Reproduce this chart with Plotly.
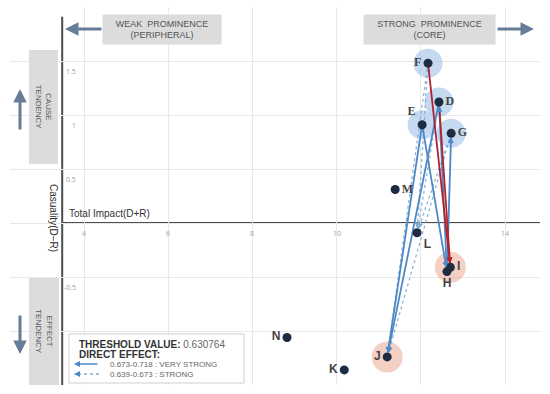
import math
import plotly.graph_objects as go

# ---------------- data ----------------
nodes = ["D", "E", "F", "G", "H", "I", "J", "K", "L", "M", "N"]
prominence = [12.43, 12.03, 12.17, 12.72, 12.62, 12.70, 11.20, 10.18, 11.91, 11.39, 8.82]   # D+R
relation = [1.12, 0.91, 1.48, 0.83, -0.45, -0.41, -1.24, -1.36, -0.09, 0.31, -1.06]       # D-R
label_pos = ["middle right", "top left", "middle left", "middle right", "bottom center",
             "middle right", "middle left", "middle left", "bottom right", "middle right",
             "middle left"]
label_serif = ["D", "E", "F", "G", "M"]

blue_focus = ["F", "D", "E", "G"]
red_focus = ["I", "J"]

edges_red = [("F", "I"), ("D", "I")]
edges_very_strong = [("E", "H"), ("H", "G"), ("H", "D"), ("D", "J"), ("E", "J")]
edges_strong = [("F", "J"), ("G", "J"), ("F", "L"), ("D", "L"), ("G", "L")]

x_tick_vals = [4, 6, 8, 10, 14]
x_tick_text = ["4", "6", "8", "10", "14"]
y_tick_vals = [1.5, 1, 0.5, -0.5]
y_tick_text = ["1.5", "1", "0.5", "-0.5"]

threshold = "0.630764"
legend_rows = ["0.673-0.718 : VERY STRONG", "0.639-0.673 : STRONG"]

# ---------------- layout constants ----------------
W, H = 550, 394
ML, MR, MT, MB = 10, 10, 7, 9
XR = [2.24, 14.83]
YR = [-1.5, 2.0]
PW, PH = W - ML - MR, H - MT - MB
kx = PW / (XR[1] - XR[0])
ky = PH / (YR[1] - YR[0])
AXIS_X = 3.48
AXIS_TOP = 1.91


def px(x):
    return (x - ML) / PW


def py(y):
    return (H - MB - y) / PH


pos = {n: (x, y) for n, x, y in zip(nodes, prominence, relation)}

BLUE = "#4d89c6"
BLUE_DOT = "#86aed6"
RED = "#b2222e"
SLATE = "#667d9a"

fig = go.Figure()

# highlight circles
fig.add_trace(go.Scatter(
    x=[pos[n][0] for n in blue_focus], y=[pos[n][1] for n in blue_focus],
    mode="markers", marker=dict(size=29, color="rgba(150,188,228,0.55)"),
    hoverinfo="skip", showlegend=False))
fig.add_trace(go.Scatter(
    x=[pos[n][0] for n in red_focus], y=[pos[n][1] for n in red_focus],
    mode="markers", marker=dict(size=31, color="rgba(234,160,138,0.5)"),
    hoverinfo="skip", showlegend=False))

annotations = []


def add_edge(a, b, color, width, dash):
    x0, y0 = pos[a]
    x1, y1 = pos[b]
    fig.add_trace(go.Scatter(x=[x0, x1], y=[y0, y1], mode="lines",
                             line=dict(color=color, width=width, dash=dash),
                             hoverinfo="skip", showlegend=False))
    dx = (x1 - x0) * kx
    dy = -(y1 - y0) * ky
    L = math.hypot(dx, dy)
    annotations.append(dict(x=x1, y=y1, xref="x", yref="y", text="", showarrow=True,
                            ax=-dx / L * 10, ay=-dy / L * 10, arrowhead=2, arrowsize=0.9,
                            arrowwidth=1.3, arrowcolor=color, standoff=4))


for a, b in edges_strong:
    add_edge(a, b, BLUE_DOT, 1.2, "dot")
for a, b in edges_very_strong:
    add_edge(a, b, BLUE, 1.8, "solid")
for a, b in edges_red:
    add_edge(a, b, RED, 1.8, "solid")

# nodes
fig.add_trace(go.Scatter(
    x=prominence, y=relation, mode="markers+text",
    marker=dict(size=9, color="#1e2b40"),
    text=["<b>%s</b>" % n for n in nodes],
    textposition=label_pos,
    textfont=dict(size=12, color="#444444",
                  family=["Liberation Serif" if n in label_serif else "Liberation Sans" for n in nodes]),
    hoverinfo="skip", showlegend=False))

# axis lines
shapes = [
    dict(type="line", xref="x", yref="y", x0=AXIS_X, x1=XR[1], y0=0, y1=0,
         line=dict(color="#4d4d4d", width=2), layer="below"),
    dict(type="line", xref="x", yref="y", x0=AXIS_X, x1=AXIS_X, y0=YR[0], y1=AXIS_TOP,
         line=dict(color="#4d4d4d", width=2), layer="below"),
]

# tick labels
for v, t in zip(x_tick_vals, x_tick_text):
    annotations.append(dict(x=v, y=0, xref="x", yref="y", text=t, showarrow=False,
                            xanchor="center", yanchor="middle",
                            yshift=-10, font=dict(size=7, color="#a0a0a0")))
for v, t in zip(y_tick_vals, y_tick_text):
    annotations.append(dict(x=AXIS_X, y=v, xref="x", yref="y", text=t, showarrow=False,
                            xanchor="right", yanchor="middle", xshift=16, yshift=-10,
                            font=dict(size=7, color="#a0a0a0")))


def note(xp, yp, text, **kw):
    d = dict(x=px(xp), y=py(yp), xref="paper", yref="paper", text=text, showarrow=False,
             xanchor="center", yanchor="middle")
    d.update(kw)
    annotations.append(d)


# axis titles
note(67, 213, "Total Impact(D+R)", xanchor="left",
     font=dict(size=10, color="#333333", family="Liberation Sans"))
note(53, 218, "Casuality(D−R)", textangle=90,
     font=dict(size=10, color="#2a2a2a", family="Liberation Sans"))

# grey boxes
BOXFONT = dict(size=9, color="#555555", family="Liberation Sans")
note(162, 29.5, "WEAK  PROMINENCE<br>(PERIPHERAL)", bgcolor="#dcdcdc", width=116, height=27, font=BOXFONT)
note(429.5, 29.5, "STRONG  PROMINENCE<br>(CORE)", bgcolor="#dcdcdc", width=129, height=27, font=BOXFONT)
SIDEFONT = dict(size=8, color="#555555", family="Liberation Sans")
note(44, 106.5, "CAUSE<br>TENDENCY", textangle=90, bgcolor="#dcdcdc", width=111, height=26, font=SIDEFONT)
note(44.5, 331, "EFFECT<br>TENDENCY", textangle=90, bgcolor="#dcdcdc", width=104, height=27, font=SIDEFONT)

# big direction arrows
for hx, hy, ax, ay in [(65, 29, 38, 0), (534, 29, -38, 0), (20, 89, 0, 42), (20, 354, 0, -40)]:
    annotations.append(dict(x=px(hx), y=py(hy), xref="paper", yref="paper", text="", showarrow=True,
                            ax=ax, ay=ay, arrowhead=2, arrowsize=0.9, arrowwidth=3,
                            arrowcolor=SLATE))

# legend box
shapes.append(dict(type="rect", xref="paper", yref="paper", x0=px(69), x1=px(244), y0=py(383), y1=py(334),
                   line=dict(color="#cfcfcf", width=1), fillcolor="white", layer="above"))
note(77, 344, "<b>THRESHOLD VALUE:</b> <span style='color:#666666'>%s</span>" % threshold,
     xanchor="left", font=dict(size=10, color="#333333", family="Liberation Sans"))
note(77, 354, "<b>DIRECT EFFECT:</b>", xanchor="left",
     font=dict(size=10, color="#333333", family="Liberation Sans"))
for i, (row, yy) in enumerate(zip(legend_rows, [364, 374])):
    note(108, yy, row, xanchor="left", font=dict(size=8, color="#666666", family="Liberation Sans"))
    if i == 0:
        annotations.append(dict(x=px(74), y=py(yy), xref="paper", yref="paper", text="",
                                showarrow=True, ax=25, ay=0, arrowhead=2, arrowsize=0.8,
                                arrowwidth=1.5, arrowcolor=BLUE))
    else:
        shapes.append(dict(type="line", xref="paper", yref="paper", x0=px(78), x1=px(99),
                           y0=py(yy), y1=py(yy), line=dict(color=BLUE_DOT, width=1.3, dash="dot"),
                           layer="above"))
        annotations.append(dict(x=px(74), y=py(yy), xref="paper", yref="paper", text="",
                                showarrow=True, ax=6, ay=0, arrowhead=2, arrowsize=0.8,
                                arrowwidth=1.5, arrowcolor=BLUE))

fig.update_layout(
    width=W, height=H, margin=dict(l=ML, r=MR, t=MT, b=MB),
    plot_bgcolor="white", paper_bgcolor="white",
    xaxis=dict(range=XR, showgrid=True, gridcolor="#e8e8e8", gridwidth=1, tick0=0, dtick=2,
               showticklabels=False, zeroline=False, showline=False, ticks=""),
    yaxis=dict(range=YR, showgrid=True, gridcolor="#e8e8e8", gridwidth=1, tick0=0, dtick=0.5,
               showticklabels=False, zeroline=False, showline=False, ticks=""),
    annotations=annotations, shapes=shapes, showlegend=False,
)

fig.write_html("out.html", config={"displayModeBar": False},
               post_script="document.body.style.margin='0';document.body.style.overflow='hidden';")
